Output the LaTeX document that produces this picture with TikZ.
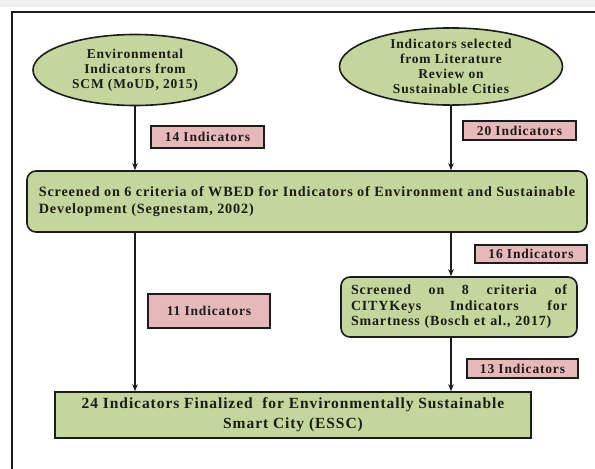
\documentclass[tikz,border=0pt]{standalone}
\usepackage{fontspec}
\setmainfont{Liberation Serif}[LetterSpace=6]
\usetikzlibrary{shapes.geometric,arrows.meta}
\definecolor{grn}{HTML}{C3D69B}
\definecolor{pnk}{HTML}{E6B9B8}
\definecolor{ink}{HTML}{1C1C1C}
\begin{document}
\begin{tikzpicture}[x=1pt,y=-1pt,
  ell/.style={ellipse, draw=ink, line width=1.6pt, fill=grn, align=center, inner sep=0pt,
    text=ink, font=\fontsize{13.5}{15}\selectfont\bfseries},
  rbox/.style={rectangle, rounded corners=9pt, draw=ink, line width=1.6pt, fill=grn,
    text=ink, inner sep=0pt},
  fbox/.style={rectangle, draw=ink, line width=1.6pt, fill=grn, text=ink, inner sep=0pt,
    align=center, font=\fontsize{15.5}{20}\selectfont\bfseries},
  lab/.style={rectangle, draw=ink, line width=1.3pt, fill=pnk, text=ink, inner sep=0pt,
    font=\fontsize{13.5}{14}\selectfont\bfseries},
  arr/.style={draw=ink, line width=1.3pt, -{Stealth[length=7pt,width=5.5pt]}}
]
\useasboundingbox (0,0) rectangle (595,469);
\fill[black!6] (0,0) rectangle (595,7);
\draw[ink, line width=1.6pt] (12,469) -- (12,12) -- (595,12);

\node[ell, minimum width=204pt, minimum height=71pt] (e1) at (135,70)
  {Environmental\\Indicators from\\SCM (MoUD, 2015)};
\node[ell, minimum width=223pt, minimum height=77pt] (e2) at (451,66.5)
  {Indicators selected\\from Literature\\Review on\\Sustainable Cities};

\node[rbox, minimum width=560pt, minimum height=61pt, align=left,
  font=\fontsize{14.2}{17.5}\selectfont\bfseries] (main) at (307,201.5)
  {Screened on 6 criteria of WBED for Indicators of Environment and Sustainable\\Development (Segnestam, 2002)};

\node[rbox, minimum width=236pt, minimum height=60pt, text width=216pt, align=left,
  font=\fontsize{14}{15.5}\selectfont\bfseries] (city) at (459,307)
  {Screened\hfill on\hfill 8\hfill criteria\hfill of\\CITYKeys\hfill Indicators\hfill for\\Smartness (Bosch et al., 2017)};

\node[fbox, minimum width=476pt, minimum height=46pt] (final) at (293,415)
  {24 Indicators Finalized~ for Environmentally Sustainable\\Smart City (ESSC)};

\node[lab, minimum width=113pt, minimum height=22pt] (l14) at (207.5,137) {14 Indicators};
\node[lab, minimum width=113pt, minimum height=19pt] (l20) at (519.5,130.5) {20 Indicators};
\node[lab, minimum width=122pt, minimum height=34pt] (l11) at (209,311) {11 Indicators};
\node[lab, minimum width=112pt, minimum height=18pt] (l16) at (531,254) {16 Indicators};
\node[lab, minimum width=111pt, minimum height=19pt] (l13) at (522.5,368.5) {13 Indicators};

\draw[arr] (e1.south) -- (e1.south |- main.north);
\draw[arr] (e2.south) -- (e2.south |- main.north);
\draw[arr] (e1.south |- main.south) -- (e1.south |- final.north);
\draw[arr] (e2.south |- main.south) -- (e2.south |- city.north);
\draw[arr] (e2.south |- city.south) -- (e2.south |- final.north);
\end{tikzpicture}
\end{document}
